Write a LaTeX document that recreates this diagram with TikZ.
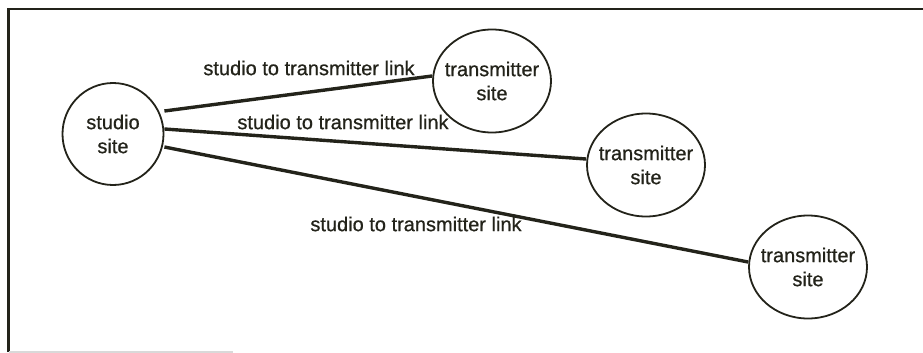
\documentclass[tikz,border=0pt]{standalone}
\usepackage{fontspec}
\setmainfont{Liberation Sans}
\newfontfamily\heavyfont{Liberation Sans}[FakeBold=0.7]
\usetikzlibrary{shapes.geometric}
\definecolor{ink}{HTML}{23231A}
\begin{document}
\begin{tikzpicture}[x=1pt,y=-1pt,
  site/.style={draw=ink,line width=1.8pt,ellipse,minimum width=118pt,minimum height=103pt,inner sep=-12pt,align=center,font=\heavyfont\fontsize{20}{24}\selectfont,text=ink},
  link/.style={draw=ink,line width=3.4pt},
  lbl/.style={font=\heavyfont\fontsize{20}{22}\selectfont,text=ink,inner sep=0pt}]
\useasboundingbox (0,0) rectangle (923,353);
\draw[ink,line width=2.2pt] (8.5,352) -- (8.5,9) -- (923,9);
\draw[gray!30,line width=1.5pt] (9,352) -- (233,352);
\node[site,minimum width=101pt,minimum height=102pt] (studio) at (113,134) {studio\\site};
\node[site] (t1) at (492,81) {transmitter\\site};
\node[site] (t2) at (646,165) {transmitter\\site};
\node[site] (t3) at (808,267) {transmitter\\site};
\draw[link] (studio.east |- 0,111) -- (t1.west |- 0,76);
\draw[link] (studio.east |- 0,129) -- (t2.west |- 0,159);
\draw[link] (studio.east |- 0,147) -- (t3.west |- 0,262);
\node[lbl] (l1) at (309,68) {studio to transmitter link};
\node[lbl] (l2) at (343,122) {studio to transmitter link};
\node[lbl] (l3) at (416,224) {studio to transmitter link};
\end{tikzpicture}
\end{document}
